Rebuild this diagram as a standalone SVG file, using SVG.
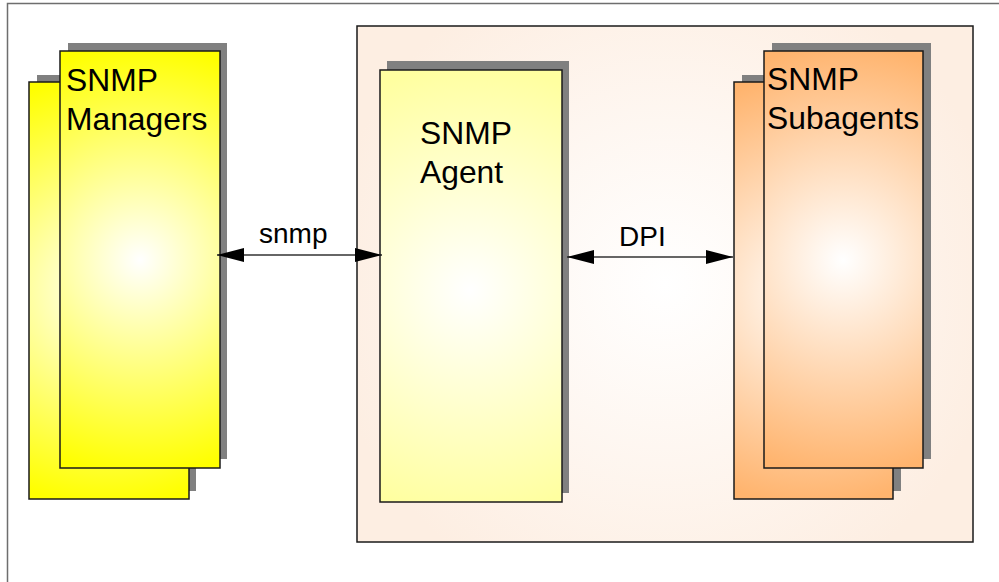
<svg xmlns="http://www.w3.org/2000/svg" width="999" height="582" viewBox="0 0 999 582">
  <style>
    .frame { fill: #ffffff; stroke: #6e6e6e; stroke-width: 1.5; }
    .shadow { fill: #808080; stroke: none; }
    .box { stroke: #1a1a1a; stroke-width: 1.5; }
    .label { font-family: "Liberation Sans", Arial, sans-serif; font-size: 31.8px; fill: #000; }
    .edge-label { font-family: "Liberation Sans", Arial, sans-serif; font-size: 28px; fill: #000; }
    .link { stroke: #333333; stroke-width: 1.5; fill: none; marker-start: url(#arrow); marker-end: url(#arrow); }
  </style>
  <defs>
    <marker id="arrow" viewBox="0 0 27 14" refX="27" refY="7" markerWidth="27" markerHeight="14" markerUnits="userSpaceOnUse" orient="auto-start-reverse">
      <path d="M0,0 L27,7 L0,14 Z" fill="#000"/>
    </marker>
    <radialGradient id="gMgrBack" gradientUnits="userSpaceOnUse" cx="109" cy="290" r="215">
      <stop offset="0" stop-color="#ffffff"/>
      <stop offset="1" stop-color="#ffff00"/>
    </radialGradient>
    <radialGradient id="gMgrFront" gradientUnits="userSpaceOnUse" cx="140" cy="260" r="215">
      <stop offset="0" stop-color="#ffffff"/>
      <stop offset="1" stop-color="#ffff00"/>
    </radialGradient>
    <radialGradient id="gHost" gradientUnits="userSpaceOnUse" cx="665" cy="284" r="340">
      <stop offset="0" stop-color="#ffffff"/>
      <stop offset="1" stop-color="#fdeee2"/>
    </radialGradient>
    <radialGradient id="gAgent" gradientUnits="userSpaceOnUse" cx="470" cy="290" r="225">
      <stop offset="0" stop-color="#ffffff"/>
      <stop offset="1" stop-color="#ffffa0"/>
    </radialGradient>
    <radialGradient id="gSubBack" gradientUnits="userSpaceOnUse" cx="813" cy="290" r="215">
      <stop offset="0" stop-color="#ffffff"/>
      <stop offset="1" stop-color="#ffb46e"/>
    </radialGradient>
    <radialGradient id="gSubFront" gradientUnits="userSpaceOnUse" cx="843" cy="260" r="215">
      <stop offset="0" stop-color="#ffffff"/>
      <stop offset="1" stop-color="#ffb46e"/>
    </radialGradient>
  </defs>

  <!-- page frame -->
  <rect class="frame" x="7.5" y="3.5" width="1010" height="600"/>

  <!-- managers (stacked pair) -->
  <g id="managers">
    <rect class="shadow" x="37" y="75" width="159" height="416"/>
    <rect class="box" x="29" y="82" width="160" height="417" fill="url(#gMgrBack)"/>
    <rect class="shadow" x="68" y="43" width="159" height="416"/>
    <rect class="box" x="60" y="51" width="160" height="417" fill="url(#gMgrFront)"/>
    <text class="label" x="66" y="91">SNMP</text>
    <text class="label" x="66" y="130">Managers</text>
  </g>

  <!-- agent host -->
  <g id="host">
    <rect class="box" x="357" y="26" width="616" height="516" fill="url(#gHost)"/>
  </g>

  <g id="agent">
    <rect class="shadow" x="387" y="61" width="182" height="432"/>
    <rect class="box" x="380" y="70" width="182" height="432" fill="url(#gAgent)"/>
    <text class="label" x="420" y="144">SNMP</text>
    <text class="label" x="420" y="183">Agent</text>
  </g>

  <!-- subagents (stacked pair) -->
  <g id="subagents">
    <rect class="shadow" x="742" y="75" width="159" height="416"/>
    <rect class="box" x="734" y="82" width="159" height="417" fill="url(#gSubBack)"/>
    <rect class="shadow" x="772" y="43" width="159" height="416"/>
    <rect class="box" x="764" y="51" width="159" height="417" fill="url(#gSubFront)"/>
    <text class="label" x="767" y="90">SNMP</text>
    <text class="label" x="767" y="129">Subagents</text>
  </g>

  <!-- connectors -->
  <g id="connectors">
    <line class="link" x1="217" y1="255" x2="382" y2="255"/>
    <text class="edge-label" x="259" y="243">snmp</text>
    <line class="link" x1="567" y1="257" x2="733" y2="257"/>
    <text class="edge-label" x="619" y="246">DPI</text>
  </g>
</svg>
